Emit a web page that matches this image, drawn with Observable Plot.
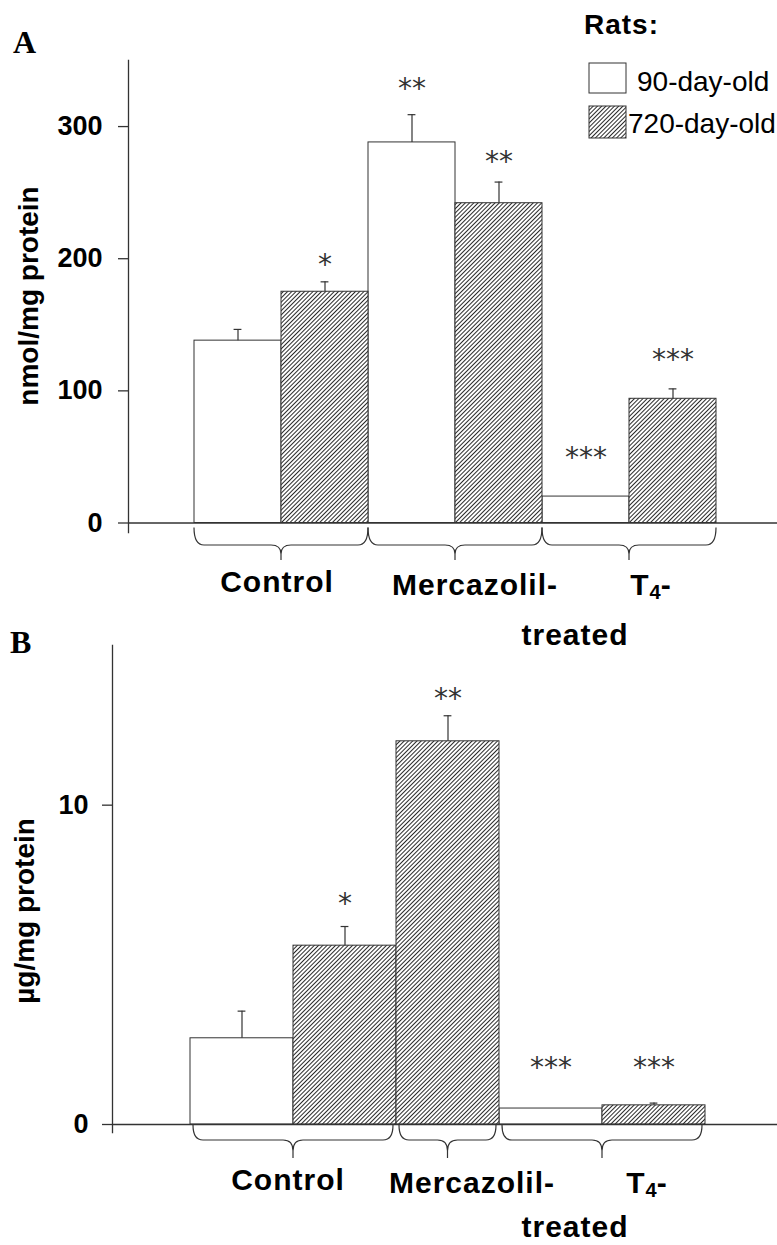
<!DOCTYPE html>
<html>
<head>
<meta charset="utf-8">
<script src="https://cdn.jsdelivr.net/npm/d3@7"></script>
<script src="https://cdn.jsdelivr.net/npm/@observablehq/plot@0.6"></script>
<style>
  html, body { margin: 0; padding: 0; background: #fff; }
  body { position: relative; width: 777px; height: 1245px; overflow: hidden; font-family: "Liberation Sans", Arial, sans-serif; color: #000; }
  .panel { position: absolute; left: 0; }
  .t { position: absolute; white-space: nowrap; line-height: 1; }
  .sub { font-size: 20px; position: relative; top: 4px; letter-spacing: 0; }
</style>
</head>
<body>
<svg width="0" height="0" style="position:absolute">
  <defs>
    <pattern id="hatch" patternUnits="userSpaceOnUse" width="3" height="3" patternTransform="rotate(45)">
      <rect width="3" height="3" fill="white"></rect>
      <line x1="1.5" y1="0" x2="1.5" y2="3" stroke="#2a2a2a" stroke-width="1"></line>
    </pattern>
  </defs>
</svg>
<div id="panelA" class="panel" style="top:0px"></div>
<div id="panelB" class="panel" style="top:600px"></div>
<script>
// ---------------- data ----------------
const ageLevels = ["90-day-old", "720-day-old"];
const groupNames = ["Control", "Mercazolil-", "T4-"];

// Panel A: nmol/mg protein
const groupA = ["Control", "Control", "Mercazolil-", "Mercazolil-", "T4-", "T4-"];
const ageA   = ["90-day-old", "720-day-old", "90-day-old", "720-day-old", "90-day-old", "720-day-old"];
const meanA  = [138, 175, 288, 242, 20, 94];
const errA   = [8.5, 7.5, 21, 16, 0, 7.5];
const sigA   = ["", "*", "**", "**", "***", "***"];
const sigLevelA = [null, 200, 333, 278, 54, 128];
const ticksA = [0, 100, 200, 300];

// Panel B: µg/mg protein
const groupB = ["Control", "Control", "Mercazolil-", "T4-", "T4-"];
const ageB   = ["90-day-old", "720-day-old", "720-day-old", "90-day-old", "720-day-old"];
const meanB  = [2.7, 5.6, 12.0, 0.5, 0.6];
const errB   = [0.85, 0.6, 0.8, 0, 0.07];
const sigB   = ["", "*", "**", "***", "***"];
const sigLevelB = [null, 7.1, 13.5, 1.95, 1.95];
const ticksB = [0, 10];

// ---------------- helpers ----------------
const W = 777;
const NS = "http://www.w3.org/2000/svg";
const INK = "#333";

function rows(groups, ages, means, errs, sigs, levels) {
  return groups.map((g, i) => ({
    key: g + " / " + ages[i], group: g, age: ages[i],
    mean: means[i], err: errs[i], sig: sigs[i], level: levels[i]
  }));
}

function panel(data, o) {
  const keys = data.map(d => d.key);
  const groups = [...new Set(data.map(d => d.group))];
  const bw = (W - o.ml - o.il - o.ir) / keys.length;
  const capInset = (bw - 8) / 2;
  const errData = data.filter(d => d.err > 0);
  const sigData = data.filter(d => d.sig);

  const braces = (index, scales) => {
    const {x, y} = scales;
    const g = document.createElementNS(NS, "g");
    const y0 = y(0);
    const top = y0 + o.b1, mid = y0 + o.b2, tip = y0 + o.b3, r = 10;
    for (const grp of groups) {
      const sub = data.filter(d => d.group === grp);
      const x1 = x(sub[0].key) + o.bin;
      const x2 = x(sub[sub.length - 1].key) + x.bandwidth() - o.bin;
      const xm = (x1 + x2) / 2;
      const p = document.createElementNS(NS, "path");
      const d =
        `M${x1},${top} Q${x1},${mid} ${x1 + r},${mid} L${xm - r},${mid} ` +
        `Q${xm},${mid} ${xm},${mid + (tip - mid) * 0.6} L${xm},${tip} ` +
        `M${xm},${mid + (tip - mid) * 0.6} Q${xm},${mid} ${xm + r},${mid} ` +
        `L${x2 - r},${mid} Q${x2},${mid} ${x2},${top}`;
      p.setAttribute("d", d);
      p.setAttribute("fill", "none");
      p.setAttribute("stroke", INK);
      p.setAttribute("stroke-width", "1.2");
      g.appendChild(p);
    }
    return g;
  };

  return Plot.plot({
    width: W,
    height: o.height,
    marginTop: o.mt,
    marginBottom: o.mb,
    marginLeft: o.ml,
    marginRight: 0,
    style: {background: "transparent", fontFamily: "'Liberation Sans', Arial, sans-serif", color: "#000", overflow: "visible"},
    x: {type: "band", domain: keys, padding: 0, insetLeft: o.il, insetRight: o.ir, axis: null},
    y: {domain: o.yDomain, insetBottom: o.ib, axis: null},
    marks: [
      Plot.frame({anchor: "left", stroke: INK, strokeWidth: 1.3}),
      Plot.barY(data.filter(d => d.age === ageLevels[0]), {x: "key", y: "mean", fill: "white", stroke: INK, strokeWidth: 1}),
      Plot.barY(data.filter(d => d.age === ageLevels[1]), {x: "key", y: "mean", fill: "url(#hatch)", stroke: INK, strokeWidth: 1}),
      Plot.ruleY([0], {stroke: INK, strokeWidth: 1.3}),
      Plot.ruleX(errData, {x: "key", y1: "mean", y2: d => d.mean + d.err, stroke: INK, strokeWidth: 1.2}),
      Plot.tickY(errData, {x: "key", y: d => d.mean + d.err, stroke: INK, strokeWidth: 1.2, insetLeft: capInset, insetRight: capInset}),
      Plot.text(sigData, {x: "key", y: "level", text: "sig", fontSize: 28, fontFamily: "DejaVu Sans", fill: INK, dy: 6}),
      Plot.axisY({ticks: o.ticks, tickSize: 10, tickPadding: o.tp, fontSize: 27, fontWeight: "bold", label: null, stroke: INK, strokeWidth: 1.3, tickFormat: d => String(d)}),
      braces
    ]
  });
}

function addText(html, {x, base, size, weight = "bold", anchor = "start", family = "'Liberation Sans', Arial, sans-serif", ls = 0, asc = 0.8465}) {
  const d = document.createElement("div");
  d.className = "t";
  d.innerHTML = html;
  Object.assign(d.style, {
    left: x + "px", top: (base - asc * size) + "px", fontSize: size + "px",
    fontWeight: weight, fontFamily: family, letterSpacing: ls + "px",
    transform: anchor === "middle" ? "translateX(-50%)" : "none"
  });
  document.body.appendChild(d);
}

function addYLabel(text, cx, cy, size) {
  const d = document.createElement("div");
  d.className = "t";
  d.textContent = text;
  Object.assign(d.style, {
    left: cx + "px", top: cy + "px", fontSize: size + "px", fontWeight: "bold",
    transform: "translate(-50%,-50%) rotate(-90deg)"
  });
  document.body.appendChild(d);
}

function addSwatch(x, y, w, h, fill) {
  const s = document.createElementNS(NS, "svg");
  s.setAttribute("width", w + 2);
  s.setAttribute("height", h + 2);
  s.style.position = "absolute";
  s.style.left = (x - 1) + "px";
  s.style.top = (y - 1) + "px";
  const r = document.createElementNS(NS, "rect");
  r.setAttribute("x", 1); r.setAttribute("y", 1);
  r.setAttribute("width", w); r.setAttribute("height", h);
  r.setAttribute("fill", fill); r.setAttribute("stroke", INK); r.setAttribute("stroke-width", 1);
  s.appendChild(r);
  document.body.appendChild(s);
}

// ---------------- panels ----------------
const dataA = rows(groupA, ageA, meanA, errA, sigA, sigLevelA);
const dataB = rows(groupB, ageB, meanB, errB, sigB, sigLevelB);

document.getElementById("panelA").appendChild(panel(dataA, {
  height: 600, mt: 60, mb: 68, ml: 128, il: 65, ir: 61, ib: 9.5,
  yDomain: [0, 350], ticks: ticksA, tp: 16,
  b1: 5, b2: 22.5, b3: 37.5, bin: 0
}));

document.getElementById("panelB").appendChild(panel(dataB, {
  height: 645, mt: 45, mb: 113, ml: 112, il: 77, ir: 72, ib: 8,
  yDomain: [0, 15], ticks: ticksB, tp: 14,
  b1: 1, b2: 16, b3: 34, bin: 3
}));

// ---------------- text ----------------
const serif = "'Liberation Serif', 'Times New Roman', serif";
addText("A", {x: 13, base: 53, size: 32, family: serif, asc: 0.8375});
addText("B", {x: 10, base: 653, size: 32, family: serif, asc: 0.8375});

addYLabel("nmol/mg protein", 28.6, 296, 28);
addYLabel("µg/mg protein", 25.3, 911, 28);

// legend
addText("Rats:", {x: 584, base: 35, size: 28, ls: 1});
addSwatch(589, 63, 37, 30, "white");
addSwatch(589, 106, 37, 32, "url(#hatch)");
addText(ageLevels[0], {x: 637, base: 92, size: 28, weight: "normal"});
addText(ageLevels[1], {x: 628, base: 134, size: 28, weight: "normal"});

// category labels
const catHTML = {"Control": "Control", "Mercazolil-": "Mercazolil-", "T4-": "T<span class='sub'>4</span>-"};
addText(catHTML[groupNames[0]], {x: 277, base: 592, size: 30, anchor: "middle", ls: 1});
addText(catHTML[groupNames[1]], {x: 475, base: 595, size: 30, anchor: "middle", ls: 1});
addText(catHTML[groupNames[2]], {x: 651, base: 595, size: 30, anchor: "middle", ls: 1});
addText("treated", {x: 575, base: 645, size: 30, anchor: "middle", ls: 1});

addText(catHTML[groupNames[0]], {x: 288, base: 1190, size: 30, anchor: "middle", ls: 1});
addText(catHTML[groupNames[1]], {x: 472, base: 1193, size: 30, anchor: "middle", ls: 1});
addText(catHTML[groupNames[2]], {x: 647, base: 1193, size: 30, anchor: "middle", ls: 1});
addText("treated", {x: 575, base: 1237, size: 30, anchor: "middle", ls: 1});
</script>
</body>
</html>
